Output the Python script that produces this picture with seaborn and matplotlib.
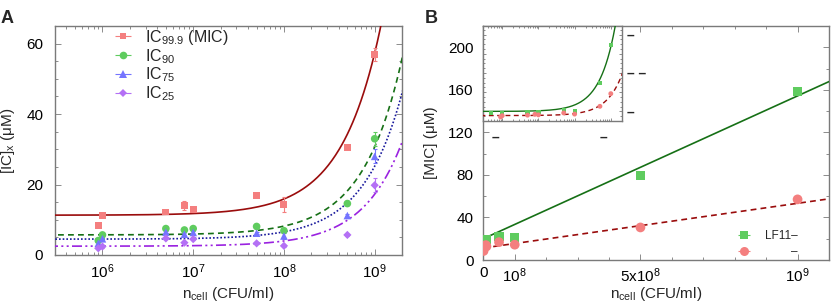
import numpy as np
import pandas as pd
import matplotlib
matplotlib.use("Agg")
import matplotlib.pyplot as plt
import seaborn as sns
from matplotlib.ticker import MultipleLocator, LogLocator, NullFormatter, FixedLocator, FixedFormatter

# ---------------- data (panel A) ----------------
n_cell = [9e5, 1e6, 5e6, 8e6, 1e7, 5e7, 1e8, 5e8, 1e9]
ic999 = [8.5, 11.1, 12.2, 14.0, 12.8, 16.8, 14.4, 30.6, 57.0]
ic999_err = [0.3, 0.3, 0.3, 1.2, 0.5, 0.4, 2.2, 0.4, 1.8]
ic90 = [4.1, 5.7, 7.5, 7.1, 7.5, 8.1, 6.9, 14.6, 33.0]
ic90_err = [0.3, 0.3, 0.3, 0.3, 0.3, 0.3, 0.5, 0.4, 2.0]
ic75 = [3.3, 4.6, 6.5, 5.9, 6.4, 6.2, 5.4, 11.2, 28.0]
ic75_err = [0.3, 0.3, 0.3, 0.3, 0.3, 0.3, 0.8, 0.4, 2.0]
ic25 = [1.9, 2.4, 4.7, 3.5, 4.5, 3.3, 2.6, 5.7, 19.8]
ic25_err = [0.3, 0.3, 0.3, 0.3, 0.3, 0.3, 0.3, 0.3, 2.0]

# linear fits IC = a + b * n_cell
fitA_a = [11.3, 5.7, 4.5, 2.5]
fitA_b = [4.6e-8, 2.5e-8, 2.07e-8, 1.475e-8]

# ---------------- data (panel B) ----------------
n_cell_lf = [5e5, 1e6, 5e6, 1e7, 5e7, 1e8, 5e8, 1e9]
mic_lf = [17.0, 16.0, 18.5, 19.0, 22.0, 21.0, 79.0, 158.0]
mic_lf_err = [0.5, 0.5, 0.5, 0.5, 0.5, 0.5, 0.8, 1.5]
mic_red = ic999
mic_red_err = ic999_err
fitB_a = [20.0, 11.3]
fitB_b = [1.343e-7, 4.2e-8]

labelsA = ["IC$_{99.9}$ (MIC)", "IC$_{90}$", "IC$_{75}$", "IC$_{25}$"]
mark_cols = ["#f47f7f", "#5fcc5f", "#7474ff", "#b470f5"]
line_cols = ["#9a0c0c", "#167016", "#18189c", "#9a22e0"]
markers = ["s", "o", "^", "D"]
msizes = [5, 5.5, 5.5, 4.2]
lstyles = ["-", (0, (3.5, 2.5)), (0, (1, 1.2)), (0, (6, 2, 1.2, 2, 1.2, 2))]

sns.set_style("ticks")
plt.rcParams['font.family'] = ['Liberation Sans', 'DejaVu Sans']
plt.rcParams['mathtext.fontset'] = 'custom'
plt.rcParams['mathtext.rm'] = 'Liberation Sans'
plt.rcParams['mathtext.it'] = 'Liberation Sans:italic'
plt.rcParams['mathtext.bf'] = 'Liberation Sans:bold'

W, H = 831, 306
fig = plt.figure(figsize=(W / 100, H / 100), dpi=100)
axA = fig.add_axes([55 / W, (H - 255) / H, 347 / W, 229 / H])
axB = fig.add_axes([483.3 / W, (H - 260) / H, 345.7 / W, 234 / H])
axI = fig.add_axes([483.3 / W, (H - 121) / H, 138.4 / W, 95 / H])

FRAME = "#7a7a7a"


def style_axes(ax):
    for sp in ax.spines.values():
        sp.set_color(FRAME)
        sp.set_linewidth(1.0)
    ax.tick_params(which='both', direction='in', top=True, right=True,
                   color=FRAME, width=0.6, labelsize=11, labelcolor='black')
    ax.tick_params(which='major', length=4)
    ax.tick_params(which='minor', length=2)


# ---------------- Panel A ----------------
axA.set_xscale('log')
series = [ic999, ic90, ic75, ic25]
errs = [ic999_err, ic90_err, ic75_err, ic25_err]
xg = np.logspace(5.4, 9.4, 400)
for i in range(4):
    sns.lineplot(x=xg, y=fitA_a[i] + fitA_b[i] * xg, ax=axA, color=line_cols[i],
                 lw=1.2, linestyle=lstyles[i], zorder=3)
for i in range(4):
    axA.errorbar(n_cell, series[i], yerr=errs[i], fmt='none', ecolor=mark_cols[i],
                 elinewidth=0.8, capsize=1.5, capthick=0.8, zorder=4)
    sns.scatterplot(x=n_cell, y=series[i], ax=axA, marker=markers[i], color=mark_cols[i],
                    s=msizes[i] ** 2, edgecolor='none', zorder=5)

axA.set_xlim(3e5, 2e9)
axA.set_ylim(0, 65)
axA.yaxis.set_major_locator(MultipleLocator(20))
axA.yaxis.set_minor_locator(MultipleLocator(5))
axA.xaxis.set_major_locator(FixedLocator([1e6, 1e7, 1e8, 1e9]))
axA.xaxis.set_major_formatter(FixedFormatter(["$10^6$", "$10^7$", "$10^8$", "$10^9$"]))
axA.xaxis.set_minor_locator(LogLocator(base=10, subs=np.arange(2, 10), numticks=20))
axA.xaxis.set_minor_formatter(NullFormatter())
style_axes(axA)
axA.tick_params(axis='y', pad=8.5)
axA.tick_params(axis='x', pad=5)
axA.set_xlabel("n$_{\\mathrm{cell}}$ (CFU/ml)", fontsize=11)
axA.set_ylabel("[IC]$_{\\mathrm{x}}$ (μM)", fontsize=11)
axA.xaxis.set_label_coords(0.5, -0.13, transform=axA.transAxes)
axA.xaxis.label.set_va('top')
axA.yaxis.set_label_coords(-0.11, 0.5)

handlesA = []
for i in range(4):
    h = axA.errorbar([np.nan], [np.nan], xerr=[1], fmt=markers[i], color=mark_cols[i],
                     ms=msizes[i], mew=0, elinewidth=0.8, capsize=2, capthick=0.8)
    handlesA.append(h)
legA = axA.legend(handlesA, labelsA, loc='upper left', frameon=False, fontsize=11.5,
                  bbox_to_anchor=(111 / W, 1 - 28 / H), bbox_transform=fig.transFigure,
                  borderpad=0, borderaxespad=0, handlelength=1.45, handletextpad=0.65,
                  labelspacing=0.0)

# ---------------- Panel B ----------------
xb = np.linspace(0, 1.1e9, 50)
sns.lineplot(x=xb, y=fitB_a[0] + fitB_b[0] * xb, ax=axB, color=line_cols[1], lw=1.2, zorder=3)
sns.lineplot(x=xb, y=fitB_a[1] + fitB_b[1] * xb, ax=axB, color=line_cols[0], lw=1.2,
             linestyle=(0, (3.5, 2.5)), zorder=3)
axB.errorbar(n_cell_lf, mic_lf, yerr=mic_lf_err, fmt='none', ecolor=mark_cols[1],
             elinewidth=0.8, capsize=1.5, zorder=4)
axB.errorbar(n_cell, mic_red, yerr=mic_red_err, fmt='none', ecolor=mark_cols[0],
             elinewidth=0.8, capsize=1.5, zorder=4)
sns.scatterplot(x=n_cell_lf, y=mic_lf, ax=axB, marker='s', color=mark_cols[1], s=6.5 ** 2,
                edgecolor='none', zorder=5)
sns.scatterplot(x=n_cell, y=mic_red, ax=axB, marker='o', color=mark_cols[0], s=7 ** 2,
                edgecolor='none', zorder=5)
axB.set_xlim(0, 1.1e9)
axB.set_ylim(0, 220)
axB.yaxis.set_major_locator(MultipleLocator(40))
axB.yaxis.set_minor_locator(MultipleLocator(20))
axB.xaxis.set_major_locator(FixedLocator([0, 1e8, 5e8, 1e9]))
axB.xaxis.set_major_formatter(FixedFormatter(["0", "$10^8$", "5x$10^8$", "$10^9$"]))
axB.xaxis.set_minor_locator(MultipleLocator(1e8))
style_axes(axB)
axB.tick_params(axis='y', pad=7)
axB.tick_params(axis='x', pad=4.5)
axB.set_xlabel("n$_{\\mathrm{cell}}$ (CFU/ml)", fontsize=11)
axB.set_ylabel("[MIC] (μM)", fontsize=11)
axB.xaxis.set_label_coords(0.5, -0.107)
axB.xaxis.label.set_va('top')
axB.yaxis.set_label_coords(-0.131, 0.5)

hB1 = axB.errorbar([np.nan], [np.nan], xerr=[1], fmt='s', color=mark_cols[1], ms=6, mew=0,
                   elinewidth=0.8, capsize=2)
hB2 = axB.errorbar([np.nan], [np.nan], xerr=[1], fmt='o', color=mark_cols[0], ms=6.5, mew=0,
                   elinewidth=0.8, capsize=2)
legB = axB.legend([hB1, hB2], ["LF11–", "        –"], loc='upper left', frameon=False,
                  fontsize=8.5, bbox_to_anchor=(733 / W, 1 - 230 / H),
                  bbox_transform=fig.transFigure, borderpad=0, borderaxespad=0,
                  handlelength=1.9, handletextpad=0.8, labelspacing=0.35)

# ---------------- Inset ----------------
axI.set_facecolor('white')
axI.set_zorder(10)
axI.set_xscale('log')
xi = np.logspace(5.4, 9.4, 400)
sns.lineplot(x=xi, y=fitB_a[0] + fitB_b[0] * xi, ax=axI, color=line_cols[1], lw=1.0, zorder=3)
sns.lineplot(x=xi, y=fitB_a[1] + fitB_b[1] * xi, ax=axI, color=line_cols[0], lw=1.0,
             linestyle=(0, (3.5, 2.5)), zorder=3)
sns.scatterplot(x=n_cell_lf, y=mic_lf, ax=axI, marker='s', color=mark_cols[1], s=3 ** 2,
                edgecolor='none', zorder=5)
sns.scatterplot(x=n_cell, y=mic_red, ax=axI, marker='o', color=mark_cols[0], s=3.5 ** 2,
                edgecolor='none', zorder=5)
axI.set_xlim(3e5, 2e9)
axI.set_ylim(0, 198)
axI.xaxis.set_major_locator(FixedLocator([1e6, 1e7, 1e8, 1e9]))
axI.xaxis.set_minor_locator(LogLocator(base=10, subs=np.arange(2, 10), numticks=20))
axI.yaxis.set_major_locator(FixedLocator([20, 60, 100, 140, 180]))
axI.yaxis.set_minor_locator(MultipleLocator(10))
axI.set_xticklabels([])
axI.set_yticklabels([])
axI.xaxis.set_minor_formatter(NullFormatter())
style_axes(axI)
axI.tick_params(which='major', length=2.5)
axI.tick_params(which='minor', length=1.2)
axI.set_xlabel("")
axI.set_ylabel("")

# stray tick-label dashes around the inset
dash_pos = [(627, 36, "–"), (627, 74, "– –"), (627, 113, "–"), (492, 138, "–"), (600, 138, "–")]
for x, y, t in dash_pos:
    fig.text(x / W, 1 - y / H, t, fontsize=10, fontweight='bold', ha='left', va='center')

# panel letters
fig.text(1 / W, 1 - 23 / H, "A", fontsize=13, fontweight='bold', ha='left', va='baseline')
fig.text(425 / W, 1 - 23 / H, "B", fontsize=13, fontweight='bold', ha='left', va='baseline')

fig.savefig("out.png", dpi=100)
